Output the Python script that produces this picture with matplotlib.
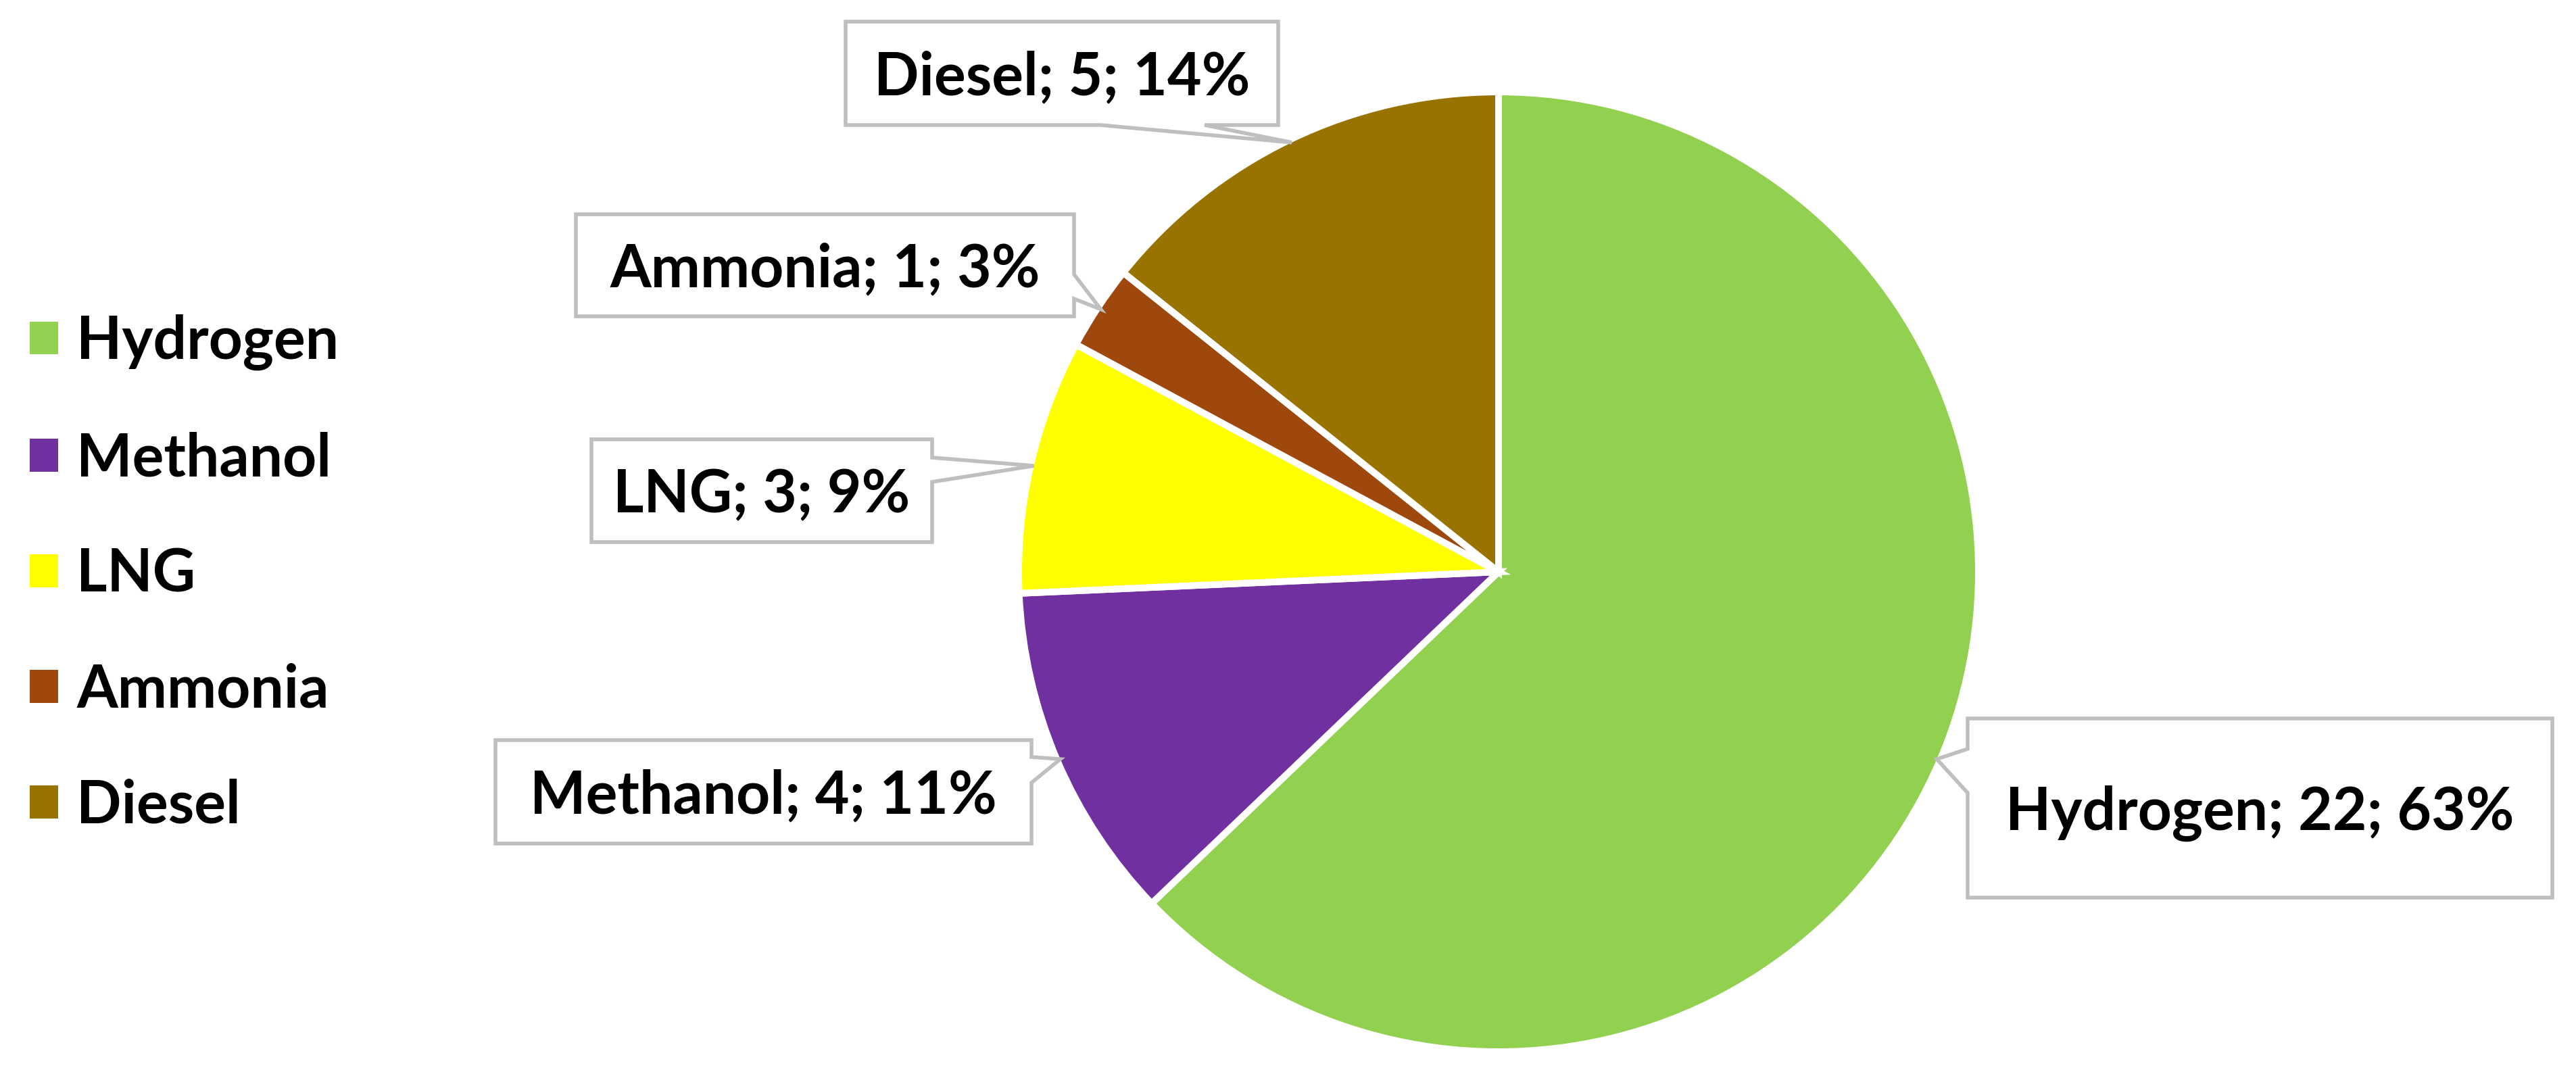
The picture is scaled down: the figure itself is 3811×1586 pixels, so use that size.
import matplotlib
matplotlib.use('Agg')
import matplotlib.pyplot as plt
from matplotlib.patches import Polygon, Patch
import numpy as np

# data
fuels = ['Hydrogen', 'Methanol', 'LNG', 'Ammonia', 'Diesel']
counts = [22, 4, 3, 1, 5]
colors = ['#92D050', '#7030A0', '#FFFF00', '#9E480E', '#997300']

# layout (pixels, image coords: y down)
W, H = 3812, 1586
pie_center = (2217, 846)
pie_radius = 705
# box x0, y0, x1, y1, side of pointer, pointer base (two coords along that side)
callouts = {
    'Hydrogen': ((2911, 1063, 3776, 1328), 'left', (1108, 1173)),
    'Methanol': ((733, 1095, 1526, 1248), 'right', (1120, 1158)),
    'LNG': ((875, 650, 1379, 802), 'right', (677, 713)),
    'Ammonia': ((852, 317, 1589, 468), 'right', (406, 442)),
    'Diesel': ((1251, 32, 1891, 185), 'bottom', (1628, 1782)),
}

FONT = 'Lato'
FS = 63


def Y(y):
    return H - y


def callout_poly(box, side, base, tip):
    x0, y0, x1, y1 = box
    b1, b2 = base
    pts = [(x0, y0)]
    if side == 'top':
        pts += [(b1, y0), tip, (b2, y0)]
    pts.append((x1, y0))
    if side == 'right':
        pts += [(x1, b1), tip, (x1, b2)]
    pts.append((x1, y1))
    if side == 'bottom':
        pts += [(b2, y1), tip, (b1, y1)]
    pts.append((x0, y1))
    if side == 'left':
        pts += [(x0, b2), tip, (x0, b1)]
    return [(x, Y(y)) for x, y in pts]


fig = plt.figure(figsize=(W / 100, H / 100), dpi=100)
ax = fig.add_axes([0, 0, 1, 1])

# white edge eats half its width off the rim, so draw a touch larger
wedges, _ = ax.pie(counts, colors=colors, startangle=90, counterclock=False,
                   center=(pie_center[0], Y(pie_center[1])), radius=pie_radius + 5,
                   wedgeprops=dict(edgecolor='white', linewidth=7.2))

total = sum(counts)
for w, name, val in zip(wedges, fuels, counts):
    mid = np.deg2rad((w.theta1 + w.theta2) / 2)
    tip = (pie_center[0] + pie_radius * np.cos(mid),
           pie_center[1] - pie_radius * np.sin(mid))
    box, side, base = callouts[name]
    poly = Polygon(callout_poly(box, side, base, tip), closed=True,
                   facecolor='white', edgecolor='#BFBFBF', linewidth=4,
                   joinstyle='miter', zorder=3)
    ax.add_patch(poly)
    pct = round(val / total * 100)
    cx = (box[0] + box[2]) / 2
    cy = (box[1] + box[3]) / 2
    ax.text(cx, Y(cy + 32), f'{name}; {val}; {pct}%', ha='center', va='baseline',
            fontsize=FS, fontweight='bold', family=FONT, color='black', zorder=4)

ax.set_xlim(0, W)
ax.set_ylim(0, H)
ax.set_aspect('equal')
ax.axis('off')

px = FS * 100 / 72
handles = [Patch(facecolor=c) for c in colors]
ax.legend(handles, fuels, loc='center left', bbox_to_anchor=(44 / W, 1 - 849 / H),
          bbox_transform=fig.transFigure, frameon=False, borderpad=0, borderaxespad=0,
          handlelength=42 / px, handleheight=42 / px, handletextpad=(123 - 96) / px,
          labelspacing=1.03, prop=dict(family=FONT, weight='bold', size=FS))

fig.savefig('out.png', dpi=100, facecolor='white')
